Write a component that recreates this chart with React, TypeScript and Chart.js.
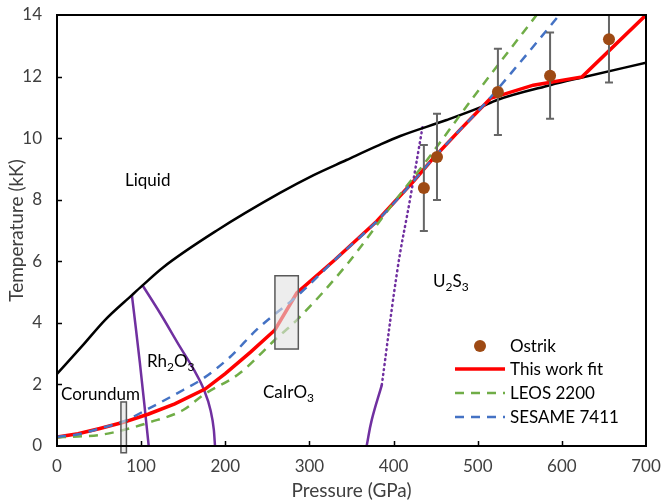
import React, { useEffect, useRef } from 'react';
import { Chart, registerables } from 'chart.js';

Chart.register(...registerables);

// ---- data (Pressure GPa, Temperature kK) ----
const meltP = [0, 30, 57, 89, 101, 126, 190, 265, 305, 344, 380, 408, 463, 503, 523, 586, 624, 700];
const meltT = [2.34, 3.25, 4.09, 4.9, 5.2, 5.8, 7.0, 8.22, 8.8, 9.29, 9.74, 10.07, 10.59, 11.0, 11.24, 11.72, 11.97, 12.45];

const fitP = [0, 25, 51, 79, 109, 140, 176, 200, 230, 259, 285, 330, 380, 425, 447, 480, 515, 566, 624, 700];
const fitT = [0.29, 0.4, 0.57, 0.77, 1.04, 1.37, 1.85, 2.35, 3.05, 3.77, 4.97, 6.04, 7.3, 8.64, 9.34, 10.3, 11.29, 11.72, 11.99, 14.0];

const leosP = [0, 25, 51, 79, 109, 150, 174, 217, 261, 285, 344, 400, 440, 494, 522, 570];
const leosT = [0.28, 0.31, 0.36, 0.52, 0.76, 1.17, 1.66, 2.36, 3.5, 4.09, 5.88, 7.9, 9.3, 11.3, 12.3, 14.0];

const sesameP = [0, 25, 51, 79, 108, 150, 174, 206, 237, 289, 330, 380, 425, 447, 480, 507, 550, 597];
const sesameT = [0.3, 0.38, 0.57, 0.8, 1.2, 1.82, 2.2, 2.9, 3.77, 4.96, 6.04, 7.3, 8.64, 9.34, 10.3, 11.07, 12.45, 14.0];

const ostrikP = [436, 451.6, 524, 586, 656];
const ostrikT = [8.38, 9.39, 11.5, 12.03, 13.21];
const ostrikErr = [1.4, 1.4, 1.4, 1.4, 1.4];

const cor1P = [89, 98.5, 109];
const cor1T = [4.9, 2.7, 0];
const rhP = [101.4, 122.4, 146.2, 162.8, 174.7, 182.4, 186.4, 187.8];
const rhT = [5.23, 4.32, 3.22, 2.47, 1.82, 1.17, 0.52, 0];
const u2s3SolidP = [368, 374, 386];
const u2s3SolidT = [0, 0.84, 1.98];
const u2s3DotP = [386, 405, 419.5, 434.6];
const u2s3DotT = [1.98, 5.8, 8.0, 10.39];

// boxes: [pMin, pMax, tMin, tMax]
const boxCorundum = [76, 82.5, -0.22, 1.43];
const boxCaIrO3 = [259, 286.8, 3.15, 5.53];

const xTicks = [0, 100, 200, 300, 400, 500, 600, 700];
const yTicks = [0, 2, 4, 6, 8, 10, 12, 14];
const xTitle = 'Pressure (GPa)';
const yTitle = 'Temperature (kK)';

const legendLabels = ['Ostrik', 'This work fit', 'LEOS 2200', 'SESAME 7411'];

const FONT = 'Lato, "Open Sans", sans-serif';
const RED = '#FF0000';
const GREEN = '#70AD47';
const BLUE = '#4472C4';
const PURPLE = '#7030A0';
const BROWN = '#9E4A14';
const GRAY = '#404040';

const pts = (xs: number[], ys: number[]) => xs.map((x, i) => ({ x, y: ys[i] }));

const overlay = {
  id: 'overlay',
  afterDatasetsDraw(chart: any) {
    const { ctx, chartArea: a, scales } = chart;
    const xs = scales.x, ys = scales.y;
    const X = (v: number) => xs.getPixelForValue(v);
    const Y = (v: number) => ys.getPixelForValue(v);
    ctx.save();

    // error bars (clipped to plot area)
    ctx.save();
    ctx.beginPath();
    ctx.rect(a.left, a.top - 1, a.right - a.left, a.bottom - a.top + 2);
    ctx.clip();
    ctx.strokeStyle = '#666666';
    ctx.lineWidth = 2;
    ostrikP.forEach((p, i) => {
      const x = X(p);
      const y1 = Y(ostrikT[i] + ostrikErr[i]);
      const y2 = Y(ostrikT[i] - ostrikErr[i]);
      ctx.beginPath();
      ctx.moveTo(x, y1); ctx.lineTo(x, y2);
      ctx.moveTo(x - 4, y1); ctx.lineTo(x + 4, y1);
      ctx.moveTo(x - 4, y2); ctx.lineTo(x + 4, y2);
      ctx.stroke();
    });
    ctx.restore();

    // points on top of error bars
    ctx.fillStyle = BROWN;
    ostrikP.forEach((p, i) => {
      ctx.beginPath();
      ctx.arc(X(p), Y(ostrikT[i]), 6, 0, Math.PI * 2);
      ctx.fill();
    });

    // boxes
    [boxCorundum, boxCaIrO3].forEach((b) => {
      const x1 = X(b[0]), x2 = X(b[1]), y1 = Y(b[3]), y2 = Y(b[2]);
      ctx.fillStyle = 'rgba(225,225,225,0.6)';
      ctx.fillRect(x1, y1, x2 - x1, y2 - y1);
      ctx.strokeStyle = '#595959';
      ctx.lineWidth = 1.5;
      ctx.strokeRect(x1, y1, x2 - x1, y2 - y1);
    });

    // frame
    ctx.strokeStyle = '#000';
    ctx.lineWidth = 2;
    ctx.strokeRect(a.left, a.top, a.right - a.left, a.bottom - a.top);

    // inward ticks
    ctx.lineWidth = 1.5;
    ctx.beginPath();
    xTicks.forEach((t) => {
      if (t === 0 || t === 700) return;
      const x = Math.round(X(t)) + 0.5;
      ctx.moveTo(x, a.bottom); ctx.lineTo(x, a.bottom - 5);
    });
    yTicks.forEach((t) => {
      if (t === 0 || t === 14) return;
      const y = Math.round(Y(t)) + 0.5;
      ctx.moveTo(a.left, y); ctx.lineTo(a.left + 5, y);
    });
    ctx.stroke();

    // tick labels
    ctx.fillStyle = GRAY;
    ctx.font = `17px ${FONT}`;
    ctx.textBaseline = 'middle';
    ctx.textAlign = 'center';
    xTicks.forEach((t) => ctx.fillText(String(t), X(t), a.bottom + 21));
    ctx.textAlign = 'right';
    yTicks.forEach((t) => ctx.fillText(String(t), a.left - 15, Y(t)));

    // axis titles
    ctx.font = `19px ${FONT}`;
    ctx.textAlign = 'center';
    ctx.fillText(xTitle, (a.left + a.right) / 2, 491);
    ctx.save();
    ctx.translate(17, (a.top + a.bottom) / 2);
    ctx.rotate(-Math.PI / 2);
    ctx.fillText(yTitle, 0, 0);
    ctx.restore();

    // region labels
    const label = (parts: [string, boolean][], x: number, y: number) => {
      ctx.fillStyle = '#000';
      ctx.textBaseline = 'alphabetic';
      ctx.textAlign = 'left';
      let cx = x;
      parts.forEach(([s, sub]) => {
        ctx.font = `${sub ? 12 : 17}px ${FONT}`;
        ctx.fillText(s, cx, sub ? y + 4 : y);
        cx += ctx.measureText(s).width;
      });
    };
    label([['Liquid', false]], 125, 186);
    label([['Corundum', false]], 61, 400);
    label([['Rh', false], ['2', true], ['O', false], ['3', true]], 147, 367);
    label([['CaIrO', false], ['3', true]], 263, 398);
    label([['U', false], ['2', true], ['S', false], ['3', true]], 433, 287);

    // legend
    const lx1 = 455, lx2 = 505, tx = 510;
    const rows = [346, 369, 393, 417];
    ctx.font = `17px ${FONT}`;
    ctx.textBaseline = 'middle';
    ctx.textAlign = 'left';
    ctx.fillStyle = '#000';
    legendLabels.forEach((s, i) => ctx.fillText(s, tx, rows[i] + 1));
    ctx.fillStyle = BROWN;
    ctx.beginPath();
    ctx.arc((lx1 + lx2) / 2, rows[0], 6, 0, Math.PI * 2);
    ctx.fill();
    const seg = (y: number, color: string, w: number, dash: number[]) => {
      ctx.strokeStyle = color;
      ctx.lineWidth = w;
      ctx.setLineDash(dash);
      ctx.beginPath();
      ctx.moveTo(lx1, y); ctx.lineTo(lx2, y);
      ctx.stroke();
    };
    seg(rows[1], RED, 3.5, []);
    seg(rows[2], GREEN, 2.5, [9, 7]);
    seg(rows[3], BLUE, 2.5, [9, 7]);
    ctx.setLineDash([]);

    ctx.restore();
  },
};

export default function App() {
  const ref = useRef<HTMLCanvasElement | null>(null);
  useEffect(() => {
    document.body.style.margin = '0';
    if (!ref.current) return;
    const chart = new Chart(ref.current, {
      type: 'line',
      data: {
        datasets: [
          { label: 'SESAME 7411', data: pts(sesameP, sesameT), borderColor: BLUE, borderWidth: 2.5, borderDash: [9, 7], cubicInterpolationMode: 'monotone', pointRadius: 0 },
          { label: 'LEOS 2200', data: pts(leosP, leosT), borderColor: GREEN, borderWidth: 2.5, borderDash: [9, 7], cubicInterpolationMode: 'monotone', pointRadius: 0 },
          { label: 'This work fit', data: pts(fitP, fitT), borderColor: RED, borderWidth: 3.5, tension: 0, pointRadius: 0 },
          { label: 'Melt', data: pts(meltP, meltT), borderColor: '#000', borderWidth: 2.5, cubicInterpolationMode: 'monotone', pointRadius: 0 },
          { label: 'b1', data: pts(cor1P, cor1T), borderColor: PURPLE, borderWidth: 2.5, tension: 0.4, pointRadius: 0 },
          { label: 'b2', data: pts(rhP, rhT), borderColor: PURPLE, borderWidth: 2.5, cubicInterpolationMode: 'monotone', pointRadius: 0 },
          { label: 'b3', data: pts(u2s3SolidP, u2s3SolidT), borderColor: PURPLE, borderWidth: 2.5, tension: 0.4, pointRadius: 0 },
          { label: 'b4', data: pts(u2s3DotP, u2s3DotT), borderColor: PURPLE, borderWidth: 2.5, borderDash: [1, 4], borderCapStyle: 'round', tension: 0.4, pointRadius: 0 },
        ],
      },
      options: {
        animation: false,
        responsive: false,
        layout: { padding: { top: 15, right: 16, left: 0, bottom: 0 } },
        plugins: { legend: { display: false }, tooltip: { enabled: false } },
        scales: {
          x: {
            type: 'linear', min: 0, max: 700,
            afterFit: (s: any) => { s.height = 58; },
            grid: { display: false, drawTicks: false },
            border: { display: false },
            ticks: { display: false },
            title: { display: false },
          },
          y: {
            type: 'linear', min: 0, max: 14,
            afterFit: (s: any) => { s.width = 57; },
            grid: { display: false, drawTicks: false },
            border: { display: false },
            ticks: { display: false },
            title: { display: false },
          },
        },
      },
      plugins: [overlay],
    } as any);
    return () => chart.destroy();
  }, []);
  return <canvas ref={ref} width={662} height={504} style={{ display: 'block' }} />;
}
